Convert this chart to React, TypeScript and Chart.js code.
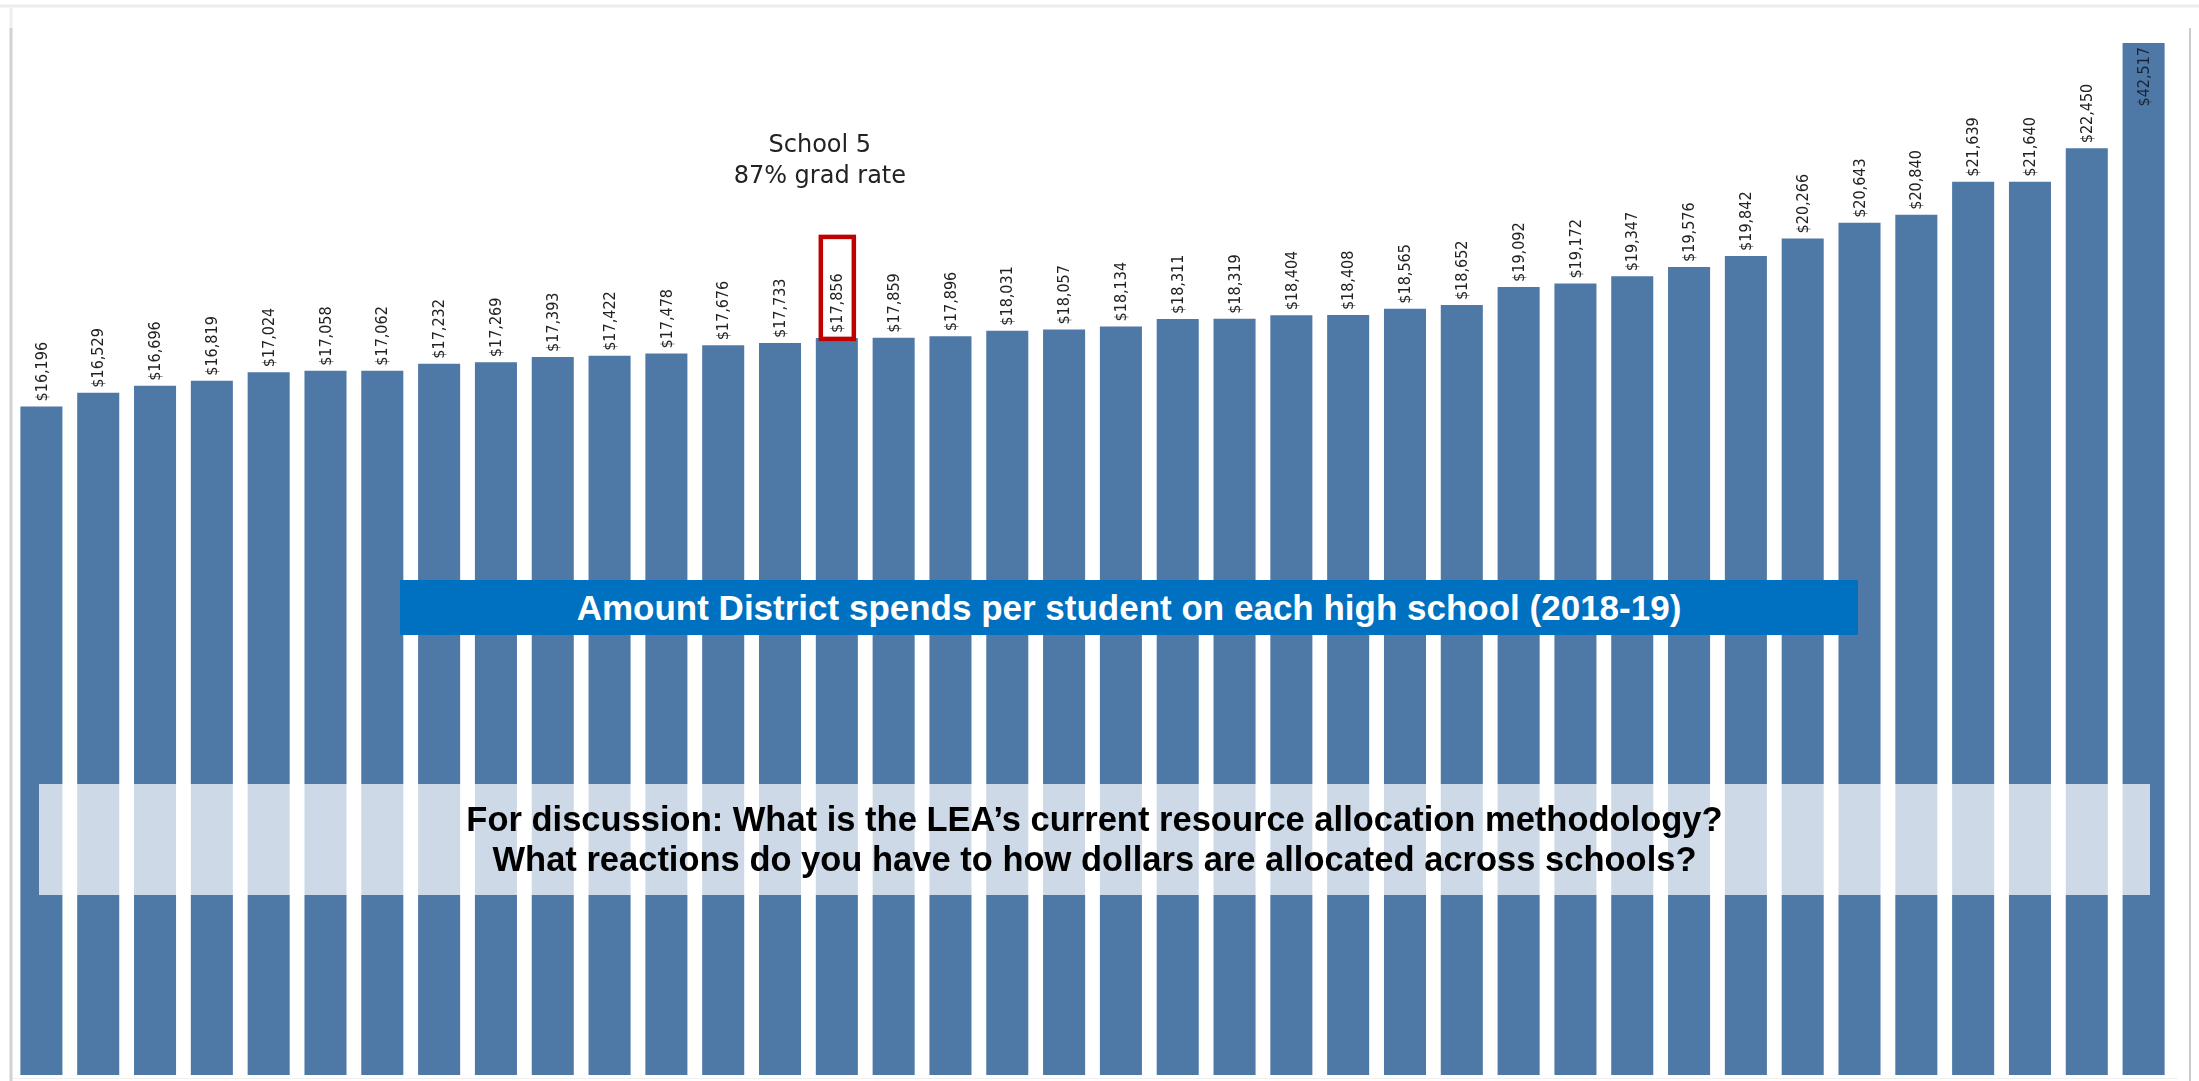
import React, { useEffect, useRef } from "react";
import { Chart, registerables } from "chart.js";

Chart.register(...registerables);

// ---- data ----
const schools: string[] = [
  "School A", "School B", "School C", "School D", "School E", "School F", "School G", "School H",
  "School I", "School J", "School K", "School L", "School M", "School N", "School 5", "School P",
  "School Q", "School R", "School S", "School T", "School U", "School V", "School W", "School X",
  "School Y", "School Z", "School AA", "School AB", "School AC", "School AD", "School AE", "School AF",
  "School AG", "School AH", "School AI", "School AJ", "School AK", "School AL",
];
const perStudentSpend: number[] = [
  16196, 16529, 16696, 16819, 17024, 17058, 17062, 17232, 17269, 17393, 17422, 17478,
  17676, 17733, 17856, 17859, 17896, 18031, 18057, 18134, 18311, 18319, 18404, 18408,
  18565, 18652, 19092, 19172, 19347, 19576, 19842, 20266, 20643, 20840, 21639, 21640,
  22450, 42517,
];
const highlightedSchool = "School 5";
const highlightNote: string[] = ["School 5", "87% grad rate"];
const yAxisMin = 0;
const yAxisMax = 25000;
const chartTitle = "Amount District spends per student on each high school (2018-19)";
const discussionLines: string[] = [
  "For discussion: What is the LEA\u2019s current resource allocation methodology?",
  "What reactions do you have to how dollars are allocated across schools?",
];

const W = 2199;
const H = 1081;

const fmt = (v: number) => "$" + v.toLocaleString("en-US");

const framePlugin = {
  id: "frame",
  beforeDraw(chart: any) {
    const ctx = chart.ctx;
    ctx.save();
    ctx.fillStyle = "#ffffff";
    ctx.fillRect(0, 0, W, H);
    ctx.strokeStyle = "#ececec";
    ctx.lineWidth = 3;
    ctx.beginPath();
    ctx.moveTo(0, 6);
    ctx.lineTo(W, 6);
    ctx.stroke();
    ctx.strokeStyle = "#eeeeee";
    ctx.beginPath();
    ctx.moveTo(11, 6);
    ctx.lineTo(11, 28);
    ctx.stroke();
    ctx.strokeStyle = "#d2d2d2";
    ctx.beginPath();
    ctx.moveTo(11, 28);
    ctx.lineTo(11, H);
    ctx.stroke();
    ctx.lineWidth = 2;
    ctx.strokeStyle = "#cccccc";
    ctx.beginPath();
    ctx.moveTo(2190, 28);
    ctx.lineTo(2190, H);
    ctx.stroke();
    ctx.strokeStyle = "#efefef";
    ctx.lineWidth = 1;
    ctx.beginPath();
    ctx.moveTo(13, 1078.5);
    ctx.lineTo(2178, 1078.5);
    ctx.stroke();
    ctx.restore();
  },
};

const labelPlugin = {
  id: "barLabels",
  afterDatasetsDraw(chart: any) {
    const ctx = chart.ctx;
    const meta = chart.getDatasetMeta(0);
    const yScale = chart.scales.y;
    const area = chart.chartArea;
    ctx.save();
    ctx.font = "16px 'DejaVu Sans Condensed', 'DejaVu Sans'";
    ctx.textBaseline = "middle";
    meta.data.forEach((el: any, i: number) => {
      const v = perStudentSpend[i];
      const label = fmt(v);
      ctx.save();
      if (v > yScale.max) {
        ctx.translate(el.x, area.top + 4);
        ctx.rotate(-Math.PI / 2);
        ctx.textAlign = "right";
        ctx.fillStyle = "#1a2430";
      } else {
        ctx.translate(el.x, el.y - 5);
        ctx.rotate(-Math.PI / 2);
        ctx.textAlign = "left";
        ctx.fillStyle = "#222222";
      }
      ctx.fillText(label, 0, 1);
      ctx.restore();

      if (schools[i] === highlightedSchool) {
        // red box around the highlighted label
        ctx.save();
        ctx.strokeStyle = "#c00000";
        ctx.lineWidth = 4.5;
        ctx.strokeRect(el.x - 16, el.y - 101, 33, 102);
        // note text above it
        ctx.fillStyle = "#222222";
        ctx.font = "24px 'DejaVu Sans'";
        ctx.textAlign = "center";
        ctx.textBaseline = "alphabetic";
        ctx.fillText(highlightNote[0], el.x - 17, 152);
        ctx.fillText(highlightNote[1], el.x - 17, 183);
        ctx.restore();
      }
    });
    ctx.restore();
  },
};

export default function App() {
  const ref = useRef<HTMLCanvasElement | null>(null);

  useEffect(() => {
    if (!ref.current) return;
    const chart = new Chart(ref.current, {
      type: "bar",
      data: {
        labels: schools,
        datasets: [
          {
            data: perStudentSpend,
            backgroundColor: "#4e78a6",
            borderWidth: 0,
            categoryPercentage: 1,
            barPercentage: 0.74,
          },
        ],
      },
      options: {
        responsive: false,
        animation: false,
        devicePixelRatio: 1,
        layout: { padding: { left: 13, right: 27, top: 43, bottom: 6 } },
        plugins: {
          legend: { display: false },
          tooltip: { enabled: false },
          title: { display: false },
        },
        scales: {
          x: { display: false, grid: { display: false } },
          y: { display: false, min: yAxisMin, max: yAxisMax, grid: { display: false } },
        },
      },
      plugins: [framePlugin, labelPlugin],
    });
    return () => chart.destroy();
  }, []);

  return (
    <div style={{ position: "absolute", left: 0, top: 0, width: W, height: H, overflow: "hidden", background: "#fff" }}>
      <canvas ref={ref} width={W} height={H} style={{ display: "block", width: W, height: H }} />
      <div
        style={{
          position: "absolute",
          left: 400,
          top: 580,
          width: 1458,
          height: 55,
          background: "#0070c0",
          color: "#ffffff",
          fontFamily: "'Liberation Sans', Arial, sans-serif",
          fontWeight: 700,
          fontSize: 35,
          lineHeight: "55px",
          textAlign: "center",
          whiteSpace: "nowrap",
        }}
      >
        {chartTitle}
      </div>
      <div
        style={{
          position: "absolute",
          left: 39,
          top: 784,
          width: 2111,
          height: 111,
          background: "rgba(255,255,255,0.72)",
          color: "#000000",
          fontFamily: "'Liberation Sans', Arial, sans-serif",
          fontWeight: 700,
          fontSize: 34.5,
          lineHeight: "40px",
          textAlign: "center",
          paddingTop: 15,
          boxSizing: "border-box",
          whiteSpace: "nowrap",
        }}
      >
        <div>{discussionLines[0]}</div>
        <div>{discussionLines[1]}</div>
      </div>
    </div>
  );
}
